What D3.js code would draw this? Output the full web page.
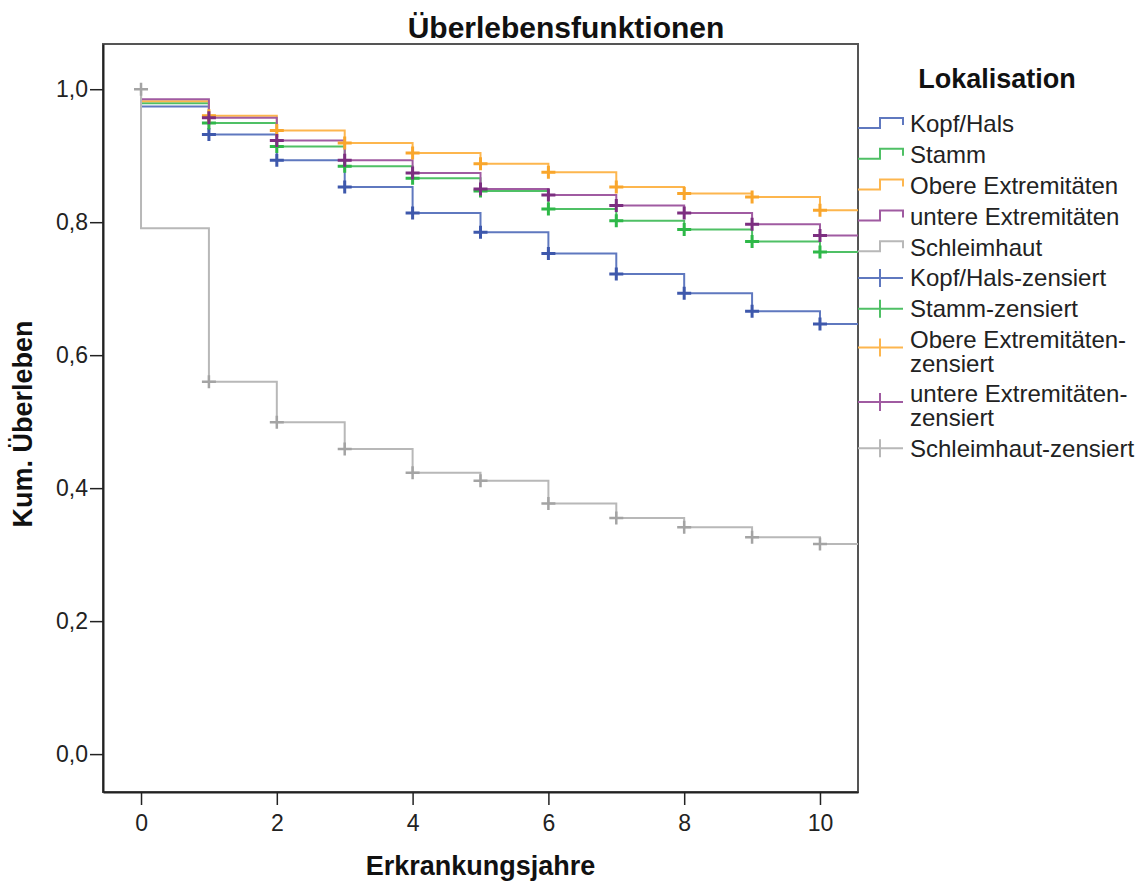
<!DOCTYPE html>
<html>
<head>
<meta charset="utf-8">
<script src="https://cdn.jsdelivr.net/npm/d3@7"></script>
<style>
    body { margin: 0; background: #fff; }
    text { font-family: "Liberation Sans", Arial, sans-serif; }
</style>
</head>
<body>
<svg id="chart" width="1145" height="883"></svg>
<script>
// Kaplan-Meier values, one value per year 0..10
const years = [0, 1, 2, 3, 4, 5, 6, 7, 8, 9, 10];
const kopfHals    = [0.974, 0.932, 0.893, 0.853, 0.814, 0.785, 0.753, 0.722, 0.693, 0.666, 0.647];
const stamm       = [0.979, 0.949, 0.914, 0.884, 0.866, 0.847, 0.820, 0.802, 0.789, 0.771, 0.755];
const obereExt    = [0.982, 0.960, 0.938, 0.919, 0.904, 0.888, 0.875, 0.853, 0.843, 0.838, 0.818];
const untereExt   = [0.985, 0.957, 0.923, 0.893, 0.874, 0.850, 0.841, 0.825, 0.814, 0.797, 0.780];
const schleimhaut = [0.791, 0.560, 0.499, 0.459, 0.423, 0.411, 0.377, 0.355, 0.341, 0.326, 0.316];
const startValue = 1.0;

const groupNames = ["Kopf/Hals", "Stamm", "Obere Extremitäten", "untere Extremitäten", "Schleimhaut"];
const censorLabels = [["Kopf/Hals-zensiert"], ["Stamm-zensiert"], ["Obere Extremitäten-", "zensiert"],
    ["untere Extremitäten-", "zensiert"], ["Schleimhaut-zensiert"]];
const xTicks = [0, 2, 4, 6, 8, 10];
const yTicks = [0, 0.2, 0.4, 0.6, 0.8, 1.0];

const lineColors = ["#5f78bf", "#4fc065", "#fdb64e", "#a05ba1", "#b8b8b8"];
const markColors = ["#3e58ac", "#2eb848", "#f9a62c", "#7c2e80", "#a4a4a4"];

const series = [kopfHals, stamm, obereExt, untereExt, schleimhaut].map((values, i) => ({
    name: groupNames[i],
    values,
    markStart: i === 4
}));

const svg = d3.select("#chart");
const margin = { top: 44, right: 287, bottom: 91, left: 103 };
const width = +svg.attr("width");
const height = +svg.attr("height");
const innerWidth = width - margin.left - margin.right;
const innerHeight = height - margin.top - margin.bottom;

const x = d3.scaleLinear().domain([-0.56, 10.56]).range([0, innerWidth]);
const y = d3.scaleLinear().domain([-0.057, 1.068]).range([innerHeight, 0]);

const g = svg.append("g").attr("transform", `translate(${margin.left},${margin.top})`);

// frame
g.append("rect")
    .attr("width", innerWidth)
    .attr("height", innerHeight)
    .attr("fill", "none")
    .attr("stroke", "#555")
    .attr("stroke-width", 2);

const commaFmt = d => d3.format(".1f")(d).replace(".", ",");

const yAxis = g.append("g")
    .call(d3.axisLeft(y).tickValues(yTicks).tickFormat(commaFmt)
        .tickSize(13).tickSizeOuter(0).tickPadding(2));
const xAxis = g.append("g")
    .attr("transform", `translate(0,${innerHeight})`)
    .call(d3.axisBottom(x).tickValues(xTicks).tickSize(13).tickSizeOuter(0).tickPadding(10));

[yAxis, xAxis].forEach(ax => {
    ax.select(".domain").attr("stroke", "#222").attr("stroke-width", 2);
    ax.selectAll(".tick line").attr("stroke", "#222").attr("stroke-width", 1.5);
    ax.selectAll(".tick text")
        .attr("font-size", "23px")
        .attr("fill", "#222")
        .style("font-family", "'Liberation Sans', Arial, sans-serif");
});

// step path for one curve
function stepPath(values) {
    const p = d3.path();
    p.moveTo(x(0), y(startValue));
    values.forEach((v, i) => {
        p.lineTo(x(years[i]), y(v));
        const next = i + 1 < values.length ? years[i + 1] : x.domain()[1];
        p.lineTo(x(next), y(v));
    });
    return p.toString();
}

svg.append("defs").append("clipPath").attr("id", "plotClip")
    .append("rect").attr("width", innerWidth).attr("height", innerHeight);
const curves = g.append("g").attr("clip-path", "url(#plotClip)");

curves.selectAll("path.curve")
    .data(series)
    .enter().append("path")
    .attr("class", "curve")
    .attr("d", d => stepPath(d.values))
    .attr("fill", "none")
    .attr("stroke", (d, i) => lineColors[i])
    .attr("stroke-width", 2);

// censor marks
function crossPath(cx, cy, hw, hh) {
    return `M${cx - hw},${cy}H${cx + hw}M${cx},${cy - hh}V${cy + hh}`;
}

series.forEach((s, i) => {
    const marks = years.slice(1).map((yr, k) => ({ yr, v: s.values[k + 1] }));
    if (s.markStart) marks.unshift({ yr: 0, v: startValue });
    curves.append("g").selectAll("path")
        .data(marks)
        .enter().append("path")
        .attr("d", d => crossPath(x(d.yr), y(d.v), 7, 6.5))
        .attr("fill", "none")
        .attr("stroke", markColors[i])
        .attr("stroke-width", i === 4 ? 2.5 : 3);
});

// titles
svg.append("text")
    .attr("x", 566)
    .attr("y", 38)
    .attr("text-anchor", "middle")
    .attr("font-size", "30px")
    .attr("font-weight", "bold")
    .attr("fill", "#111")
    .text("Überlebensfunktionen");

svg.append("text")
    .attr("x", margin.left + innerWidth / 2)
    .attr("y", 875)
    .attr("text-anchor", "middle")
    .attr("font-size", "27px")
    .attr("font-weight", "bold")
    .attr("fill", "#111")
    .text("Erkrankungsjahre");

svg.append("text")
    .attr("transform", `translate(32,${margin.top + innerHeight / 2 + 6}) rotate(-90)`)
    .attr("text-anchor", "middle")
    .attr("font-size", "27px")
    .attr("font-weight", "bold")
    .attr("fill", "#111")
    .text("Kum. Überleben");

// legend
const legend = svg.append("g");
legend.append("text")
    .attr("x", 997)
    .attr("y", 88)
    .attr("text-anchor", "middle")
    .attr("font-size", "27px")
    .attr("font-weight", "bold")
    .attr("fill", "#111")
    .text("Lokalisation");

let rowY = 124;
groupNames.forEach((name, i) => {
    legend.append("path")
        .attr("d", `M858,${rowY + 4}H880V${rowY - 6}H903V${rowY + 1}`)
        .attr("fill", "none")
        .attr("stroke", lineColors[i])
        .attr("stroke-width", 2);
    legend.append("text")
        .attr("x", 910)
        .attr("y", rowY)
        .attr("dy", "0.35em")
        .attr("font-size", "24px")
        .attr("fill", "#222")
        .text(name);
    rowY += 30.8;
});

censorLabels.forEach((lines, i) => {
    const symY = lines.length > 1 ? rowY + 8 : rowY;
    legend.append("path")
        .attr("d", `M858,${symY}H903M880,${symY - 9}V${symY + 9}`)
        .attr("fill", "none")
        .attr("stroke", lineColors[i])
        .attr("stroke-width", 2);
    const t = legend.append("text")
        .attr("x", 910)
        .attr("y", rowY)
        .attr("font-size", "24px")
        .attr("fill", "#222");
    lines.forEach((ln, k) => {
        t.append("tspan").attr("x", 910).attr("dy", k === 0 ? "0.35em" : "23.5px").text(ln);
    });
    rowY += 30.8 + (lines.length - 1) * 23.5;
});
</script>
</body>
</html>
